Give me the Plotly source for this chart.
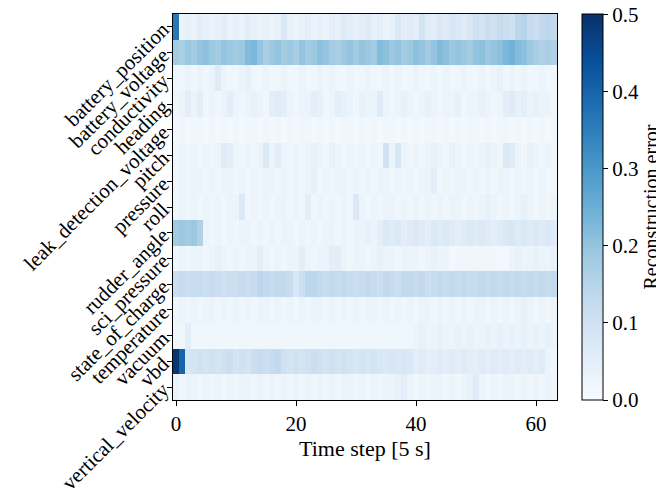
import plotly.graph_objects as go

features = ["battery_position", "battery_voltage", "conductivity", "heading",
            "leak_detection_voltage", "pitch", "pressure", "roll", "rudder_angle",
            "sci_pressure", "state_of_charge", "temperature", "vacuum", "vbd",
            "vertical_velocity"]

time_steps = list(range(64))

cbar_ticks = [0.0, 0.1, 0.2, 0.3, 0.4, 0.5]

battery_position = [0.36, 0.03, 0.04, 0.03, 0.05, 0.04, 0.03, 0.04, 0.05, 0.03,
                    0.04, 0.03, 0.05, 0.04, 0.03, 0.04, 0.03, 0.04, 0.07, 0.04,
                    0.03, 0.04, 0.05, 0.03, 0.04, 0.03, 0.05, 0.04, 0.06, 0.05,
                    0.04, 0.05, 0.06, 0.04, 0.05, 0.03, 0.04, 0.07, 0.05, 0.06,
                    0.05, 0.09, 0.06, 0.05, 0.07, 0.06, 0.08, 0.07, 0.06, 0.08,
                    0.10, 0.09, 0.11, 0.10, 0.12, 0.11, 0.10, 0.14, 0.15, 0.12,
                    0.11, 0.13, 0.14, 0.13]
battery_voltage = [0.18, 0.17, 0.19, 0.18, 0.20, 0.21, 0.19, 0.18, 0.20, 0.19,
                   0.18, 0.19, 0.22, 0.23, 0.20, 0.17, 0.19, 0.20, 0.18, 0.19,
                   0.17, 0.20, 0.18, 0.19, 0.21, 0.20, 0.18, 0.17, 0.19, 0.20,
                   0.18, 0.20, 0.19, 0.18, 0.22, 0.21, 0.19, 0.20, 0.18, 0.19,
                   0.21, 0.20, 0.18, 0.20, 0.22, 0.21, 0.19, 0.20, 0.19, 0.18,
                   0.20, 0.21, 0.19, 0.20, 0.21, 0.23, 0.24, 0.22, 0.21, 0.19,
                   0.17, 0.16, 0.17, 0.16]
conductivity = [0.02, 0.02, 0.03, 0.02, 0.03, 0.02, 0.03, 0.06, 0.03, 0.02,
                0.02, 0.03, 0.04, 0.02, 0.02, 0.03, 0.02, 0.02, 0.03, 0.02,
                0.02, 0.03, 0.02, 0.02, 0.03, 0.02, 0.03, 0.02, 0.02, 0.03,
                0.02, 0.02, 0.03, 0.02, 0.02, 0.03, 0.02, 0.03, 0.02, 0.02,
                0.03, 0.02, 0.02, 0.03, 0.02, 0.03, 0.02, 0.02, 0.03, 0.02,
                0.02, 0.03, 0.02, 0.03, 0.04, 0.02, 0.03, 0.02, 0.03, 0.02,
                0.02, 0.03, 0.02, 0.02]
heading = [0.02, 0.03, 0.05, 0.03, 0.05, 0.02, 0.03, 0.02, 0.03, 0.05,
           0.03, 0.02, 0.03, 0.04, 0.03, 0.02, 0.05, 0.06, 0.05, 0.03,
           0.02, 0.03, 0.03, 0.05, 0.04, 0.02, 0.03, 0.05, 0.04, 0.03,
           0.02, 0.04, 0.03, 0.03, 0.06, 0.03, 0.02, 0.03, 0.04, 0.03,
           0.02, 0.03, 0.04, 0.03, 0.02, 0.03, 0.03, 0.04, 0.02, 0.03,
           0.03, 0.04, 0.03, 0.02, 0.03, 0.05, 0.06, 0.04, 0.05, 0.03,
           0.04, 0.03, 0.03, 0.02]
leak_detection_voltage = [0.01, 0.02, 0.01, 0.02, 0.02, 0.01, 0.02, 0.01, 0.02, 0.01,
                          0.02, 0.01, 0.02, 0.02, 0.01, 0.02, 0.01, 0.02, 0.01, 0.02,
                          0.01, 0.02, 0.02, 0.01, 0.02, 0.01, 0.02, 0.01, 0.02, 0.02,
                          0.01, 0.02, 0.01, 0.02, 0.01, 0.02, 0.02, 0.01, 0.02, 0.01,
                          0.02, 0.01, 0.02, 0.02, 0.01, 0.02, 0.01, 0.02, 0.01, 0.02,
                          0.02, 0.01, 0.02, 0.01, 0.02, 0.02, 0.01, 0.02, 0.01, 0.02,
                          0.01, 0.02, 0.01, 0.02]
pitch = [0.02, 0.03, 0.02, 0.03, 0.02, 0.03, 0.02, 0.03, 0.06, 0.05,
         0.03, 0.02, 0.03, 0.02, 0.03, 0.07, 0.03, 0.05, 0.03, 0.02,
         0.03, 0.02, 0.03, 0.04, 0.03, 0.02, 0.04, 0.03, 0.02, 0.03,
         0.02, 0.03, 0.02, 0.03, 0.02, 0.10, 0.03, 0.08, 0.03, 0.02,
         0.03, 0.02, 0.03, 0.04, 0.03, 0.02, 0.04, 0.03, 0.02, 0.03,
         0.02, 0.03, 0.04, 0.03, 0.02, 0.07, 0.06, 0.03, 0.02, 0.04,
         0.03, 0.02, 0.03, 0.02]
pressure = [0.02, 0.03, 0.02, 0.03, 0.03, 0.02, 0.03, 0.02, 0.03, 0.03,
            0.02, 0.03, 0.02, 0.03, 0.02, 0.03, 0.03, 0.02, 0.03, 0.02,
            0.03, 0.02, 0.03, 0.04, 0.02, 0.03, 0.02, 0.03, 0.03, 0.02,
            0.03, 0.02, 0.03, 0.02, 0.03, 0.03, 0.02, 0.03, 0.02, 0.03,
            0.02, 0.03, 0.03, 0.05, 0.02, 0.03, 0.02, 0.03, 0.03, 0.02,
            0.03, 0.02, 0.03, 0.02, 0.03, 0.03, 0.02, 0.03, 0.02, 0.03,
            0.02, 0.03, 0.02, 0.02]
roll = [0.02, 0.03, 0.02, 0.03, 0.02, 0.03, 0.02, 0.03, 0.02, 0.03,
        0.03, 0.07, 0.02, 0.03, 0.02, 0.03, 0.02, 0.03, 0.03, 0.02,
        0.03, 0.02, 0.05, 0.02, 0.03, 0.02, 0.03, 0.02, 0.03, 0.02,
        0.07, 0.03, 0.02, 0.03, 0.02, 0.03, 0.03, 0.02, 0.03, 0.02,
        0.03, 0.02, 0.03, 0.02, 0.03, 0.02, 0.03, 0.03, 0.02, 0.03,
        0.02, 0.03, 0.04, 0.03, 0.02, 0.03, 0.02, 0.03, 0.04, 0.03,
        0.02, 0.03, 0.02, 0.03]
rudder_angle = [0.18, 0.19, 0.18, 0.19, 0.16, 0.03, 0.02, 0.03, 0.02, 0.03,
                0.02, 0.03, 0.03, 0.02, 0.03, 0.02, 0.03, 0.02, 0.03, 0.03,
                0.02, 0.03, 0.02, 0.03, 0.02, 0.03, 0.03, 0.02, 0.03, 0.02,
                0.03, 0.03, 0.04, 0.03, 0.05, 0.07, 0.06, 0.07, 0.05, 0.06,
                0.07, 0.06, 0.05, 0.07, 0.06, 0.07, 0.06, 0.05, 0.06, 0.07,
                0.06, 0.07, 0.06, 0.05, 0.06, 0.07, 0.08, 0.06, 0.07, 0.06,
                0.07, 0.06, 0.07, 0.06]
sci_pressure = [0.02, 0.03, 0.02, 0.03, 0.03, 0.02, 0.03, 0.04, 0.03, 0.02,
                0.03, 0.02, 0.03, 0.03, 0.05, 0.03, 0.02, 0.03, 0.02, 0.03,
                0.03, 0.05, 0.03, 0.02, 0.03, 0.03, 0.05, 0.05, 0.03, 0.02,
                0.03, 0.03, 0.02, 0.03, 0.04, 0.03, 0.03, 0.02, 0.03, 0.03,
                0.03, 0.02, 0.03, 0.04, 0.03, 0.03, 0.01, 0.02, 0.02, 0.02,
                0.02, 0.02, 0.02, 0.02, 0.01, 0.01, 0.03, 0.04, 0.03, 0.03,
                0.04, 0.03, 0.03, 0.04]
state_of_charge = [0.11, 0.12, 0.11, 0.12, 0.12, 0.11, 0.12, 0.11, 0.10, 0.11,
                   0.11, 0.12, 0.11, 0.12, 0.14, 0.13, 0.12, 0.13, 0.13, 0.12,
                   0.08, 0.11, 0.14, 0.14, 0.13, 0.12, 0.13, 0.12, 0.13, 0.12,
                   0.11, 0.12, 0.13, 0.12, 0.11, 0.13, 0.12, 0.11, 0.13, 0.13,
                   0.12, 0.13, 0.11, 0.12, 0.13, 0.12, 0.13, 0.12, 0.13, 0.12,
                   0.12, 0.13, 0.12, 0.13, 0.12, 0.13, 0.12, 0.13, 0.12, 0.13,
                   0.12, 0.13, 0.12, 0.13]
temperature = [0.02, 0.03, 0.02, 0.03, 0.02, 0.03, 0.03, 0.02, 0.03, 0.02,
               0.03, 0.02, 0.03, 0.02, 0.03, 0.03, 0.02, 0.03, 0.02, 0.03,
               0.02, 0.03, 0.02, 0.03, 0.03, 0.02, 0.03, 0.02, 0.03, 0.02,
               0.03, 0.02, 0.03, 0.03, 0.02, 0.03, 0.02, 0.03, 0.02, 0.03,
               0.02, 0.03, 0.03, 0.02, 0.03, 0.02, 0.03, 0.02, 0.03, 0.02,
               0.03, 0.03, 0.02, 0.03, 0.02, 0.03, 0.02, 0.03, 0.04, 0.03,
               0.02, 0.03, 0.02, 0.03]
vacuum = [0.02, 0.02, 0.05, 0.02, 0.02, 0.02, 0.02, 0.02, 0.02, 0.02,
          0.02, 0.02, 0.02, 0.02, 0.02, 0.02, 0.02, 0.02, 0.02, 0.02,
          0.02, 0.02, 0.02, 0.02, 0.02, 0.02, 0.02, 0.02, 0.02, 0.02,
          0.02, 0.02, 0.02, 0.02, 0.02, 0.02, 0.02, 0.02, 0.02, 0.02,
          0.03, 0.04, 0.03, 0.03, 0.04, 0.03, 0.03, 0.04, 0.03, 0.04,
          0.03, 0.03, 0.04, 0.03, 0.04, 0.03, 0.04, 0.03, 0.04, 0.03,
          0.04, 0.03, 0.04, 0.03]
vbd = [0.49, 0.40, 0.08, 0.09, 0.10, 0.09, 0.10, 0.09, 0.10, 0.11,
       0.09, 0.10, 0.09, 0.11, 0.12, 0.11, 0.12, 0.13, 0.10, 0.09,
       0.10, 0.09, 0.10, 0.11, 0.10, 0.09, 0.10, 0.09, 0.10, 0.09,
       0.08, 0.09, 0.08, 0.09, 0.08, 0.07, 0.08, 0.07, 0.08, 0.07,
       0.05, 0.06, 0.05, 0.05, 0.06, 0.05, 0.06, 0.05, 0.06, 0.05,
       0.05, 0.06, 0.05, 0.06, 0.05, 0.06, 0.05, 0.06, 0.05, 0.06,
       0.05, 0.06, 0.03, 0.02]
vertical_velocity = [0.03, 0.02, 0.03, 0.03, 0.02, 0.03, 0.02, 0.03, 0.02, 0.03,
                     0.02, 0.03, 0.03, 0.02, 0.03, 0.02, 0.03, 0.02, 0.03, 0.02,
                     0.03, 0.02, 0.03, 0.02, 0.03, 0.02, 0.03, 0.02, 0.03, 0.03,
                     0.02, 0.03, 0.02, 0.03, 0.02, 0.03, 0.03, 0.04, 0.05, 0.03,
                     0.02, 0.03, 0.02, 0.03, 0.03, 0.02, 0.03, 0.02, 0.03, 0.04,
                     0.06, 0.03, 0.02, 0.03, 0.02, 0.03, 0.03, 0.02, 0.03, 0.02,
                     0.03, 0.02, 0.03, 0.02]

z = [battery_position, battery_voltage, conductivity, heading,
     leak_detection_voltage, pitch, pressure, roll, rudder_angle,
     sci_pressure, state_of_charge, temperature, vacuum, vbd,
     vertical_velocity]

blues = [[0.0, "rgb(247,251,255)"], [0.125, "rgb(222,235,247)"],
         [0.25, "rgb(198,219,239)"], [0.375, "rgb(158,202,225)"],
         [0.5, "rgb(107,174,214)"], [0.625, "rgb(66,146,198)"],
         [0.75, "rgb(33,113,181)"], [0.875, "rgb(8,81,156)"],
         [1.0, "rgb(8,48,107)"]]

FONT = "Liberation Serif, Times New Roman, serif"
W, H = 656, 487  # page adds an 8px body margin
ZMAX = 0.5

fig = go.Figure(go.Heatmap(
    z=z, x=time_steps, y=features, colorscale=blues, zmin=0, zmax=ZMAX,
    colorbar=dict(
        title=dict(text="Reconstruction error", side="right",
                   font=dict(family=FONT, size=20, color="black")),
        thickness=21, len=1, lenmode="fraction", y=0.5, yanchor="middle",
        x=574 / W, xref="container", xanchor="left", xpad=0, ypad=0,
        outlinecolor="black", outlinewidth=1,
        ticks="outside", ticklen=5, tickcolor="black",
        ticklabeloverflow="allow",
        tickmode="array",
        tickvals=[min(v, ZMAX * 0.999) for v in cbar_ticks],
        ticktext=[f"{v:.1f}" for v in cbar_ticks],
        tickfont=dict(family=FONT, size=21, color="black"),
    ),
))

fig.update_layout(
    width=W, height=H,
    margin=dict(l=165, r=107, t=6, b=95, autoexpand=False),
    plot_bgcolor="white", paper_bgcolor="white",
    font=dict(family=FONT, size=21, color="black"),
)
fig.update_xaxes(
    title=dict(text="Time step [5 s]", font=dict(family=FONT, size=22), standoff=2),
    tickvals=[0, 20, 40, 60], ticks="outside", ticklen=5, tickcolor="black",
    showline=True, linecolor="black", linewidth=1, mirror=True,
    showgrid=False, zeroline=False, range=[-0.5, 63.5],
    tickfont=dict(family=FONT, size=21), automargin=False,
)
fig.update_yaxes(
    autorange="reversed", ticks="outside", ticklen=5, tickcolor="black",
    showline=True, linecolor="black", linewidth=1, mirror=True,
    showgrid=False, zeroline=False, tickangle=-45,
    tickfont=dict(family=FONT, size=21), automargin=False,
)

fig.write_html("out.html")
